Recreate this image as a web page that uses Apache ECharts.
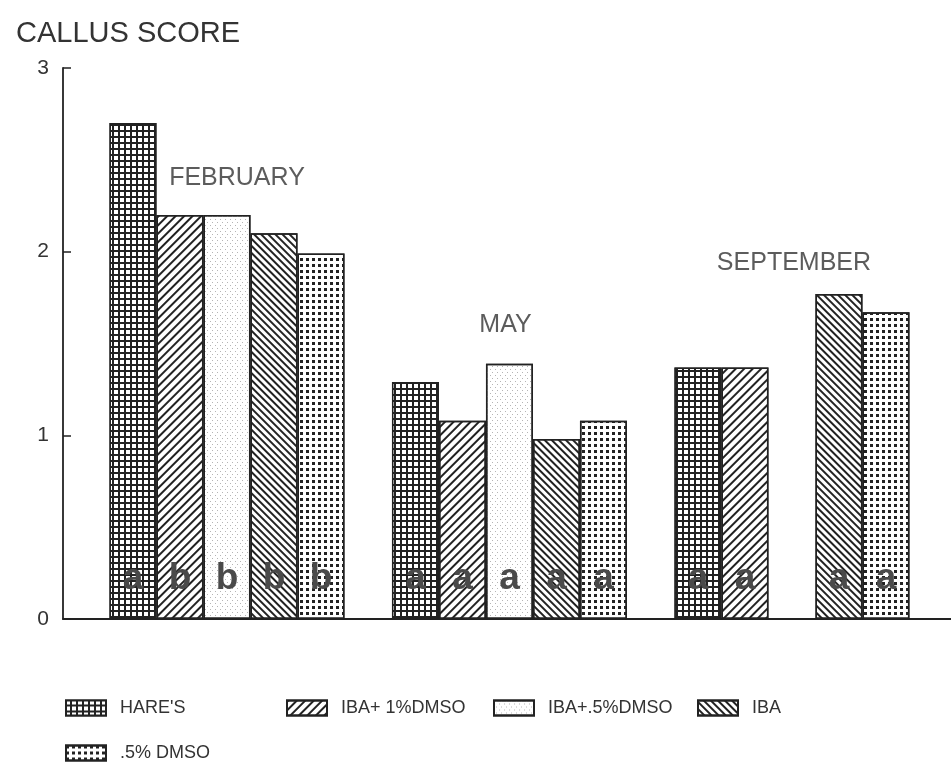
<!DOCTYPE html>
<html>
<head>
<meta charset="utf-8">
<script src="https://cdn.jsdelivr.net/npm/echarts@6/dist/echarts.min.js"></script>
<style>
  html, body { margin: 0; padding: 0; background: #fff; }
  #chart { width: 951px; height: 763px; }
</style>
</head>
<body>
<div id="chart"></div>
<script>
// 数据
var months = ['FEBRUARY', 'MAY', 'SEPTEMBER'];
var treatments = ["HARE'S", 'IBA+ 1%DMSO', 'IBA+.5%DMSO', 'IBA', '.5% DMSO'];
var hares = [2.7, 1.29, 1.37];
var iba1Dmso = [2.2, 1.08, 1.37];
var ibaHalfDmso = [2.2, 1.39, null];
var iba = [2.1, 0.98, 1.77];
var halfDmso = [1.99, 1.08, 1.67];
var letters = [
    ['a', 'a', 'a'],
    ['b', 'a', 'a'],
    ['b', 'a', ''],
    ['b', 'a', 'a'],
    ['b', 'a', 'a']
];
var yTicks = [0, 1, 2, 3];

var values = [hares, iba1Dmso, ibaHalfDmso, iba, halfDmso];

// 图案
var decals = [
    { symbol: 'rect', symbolSize: 1, dashArrayX: [4, 2], dashArrayY: [4, 2], color: '#fff' },
    { symbol: 'rect', symbolSize: 1, dashArrayX: [1, 0], dashArrayY: [2, 4], rotation: -Math.PI / 4, color: '#222' },
    { symbol: 'rect', symbolSize: 1, dashArrayX: [[1, 4], [0, 2, 1, 2]], dashArrayY: [1, 2], color: '#b5b5b5' },
    { symbol: 'rect', symbolSize: 1, dashArrayX: [1, 0], dashArrayY: [2, 3], rotation: Math.PI / 4, color: '#222' },
    { symbol: 'rect', symbolSize: 1, dashArrayX: [3, 3], dashArrayY: [3, 3], color: '#222' }
];
var fills = ['#222', '#fff', '#fff', '#fff', '#fff'];

var fontFam = '"Liberation Sans", Arial, sans-serif';

var series = treatments.map(function (name, s) {
    return {
        name: name,
        type: 'bar',
        barWidth: 47,
        barGap: '0%',
        data: values[s].map(function (v, i) { return [i, v]; }),
        itemStyle: {
            color: fills[s],
            borderColor: '#222',
            borderWidth: 1.5,
            decal: decals[s]
        },
        label: {
            show: true,
            position: 'insideBottom',
            distance: 22,
            formatter: function (p) { return letters[s][p.dataIndex]; },
            fontSize: 37,
            fontWeight: 'bold',
            fontFamily: fontFam,
            color: '#4a4a4a'
        },
        emphasis: { disabled: true }
    };
});

// 月份标签
var monthLevel = [2.4, 1.6, 1.94];
var monthShift = [10, -4, 2];
series.push({
    type: 'scatter',
    symbolSize: 0,
    silent: true,
    data: months.map(function (m, i) {
        return { value: [i, monthLevel[i]], label: { offset: [monthShift[i], 0] } };
    }),
    label: {
        show: true,
        position: 'inside',
        formatter: function (p) { return months[p.dataIndex]; },
        fontSize: 25,
        fontFamily: fontFam,
        color: '#333'
    }
});

var legendPos = [[65, 699], [286, 699], [493, 699], [697, 699], [65, 744]];
var legends = treatments.map(function (name, s) {
    return {
        data: [name],
        left: legendPos[s][0],
        top: legendPos[s][1],
        padding: 0,
        icon: 'rect',
        itemWidth: 40,
        itemHeight: 15,
        selectedMode: false,
        textStyle: {
            fontSize: 18,
            fontFamily: fontFam,
            color: '#333',
            padding: [6, 0, 0, 9]
        }
    };
});

var myChart = echarts.init(document.getElementById('chart'));
var option = {
    animation: false,
    backgroundColor: '#fff',
    title: {
        text: 'CALLUS SCORE',
        left: 11,
        top: 14,
        textStyle: { fontSize: 29, fontWeight: 'normal', fontFamily: fontFam, color: '#333' }
    },
    legend: legends,
    grid: { left: 63, right: 0, top: 68, bottom: 144 },
    xAxis: {
        type: 'value',
        min: -0.5805,
        max: 2.563,
        axisLine: { show: true, onZero: false, lineStyle: { color: '#222', width: 1.8 } },
        axisTick: { show: false },
        axisLabel: { show: false },
        splitLine: { show: false }
    },
    yAxis: {
        type: 'value',
        min: yTicks[0],
        max: yTicks[yTicks.length - 1],
        interval: 1,
        axisLine: { show: true, onZero: false, lineStyle: { color: '#222', width: 1.8 } },
        axisTick: { show: true, inside: true, length: 8, lineStyle: { color: '#222', width: 1.5 } },
        axisLabel: { fontSize: 21, fontFamily: fontFam, color: '#333', margin: 14 },
        splitLine: { show: false }
    },
    series: series
};
myChart.setOption(option);
window.onresize = function () {
    myChart.resize();
};
</script>
</body>
</html>
